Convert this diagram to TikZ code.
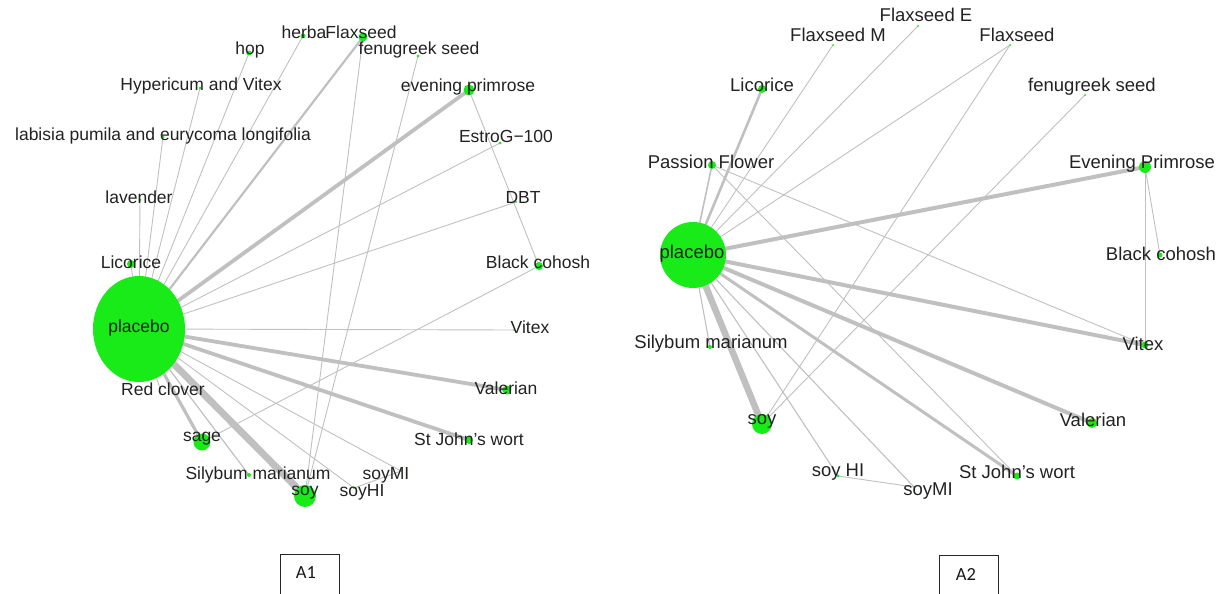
\documentclass[tikz,border=0pt]{standalone}
\usepackage{fontspec}
\setmainfont{Liberation Sans}
\newfontfamily\boxfont{Carlito}
\usetikzlibrary{backgrounds,shapes.geometric}
\definecolor{ngreen}{RGB}{25,235,25}
\definecolor{egray}{RGB}{192,192,192}
\definecolor{txt}{RGB}{34,34,34}
\newcommand\netfontA{\fontsize{17.5}{20}\selectfont}
\newcommand\netfontB{\fontsize{18.5}{21}\selectfont}
\tikzset{
  gdot/.style={circle, fill=ngreen, inner sep=0pt, minimum size=#1},
  lblA/.style={text=txt, inner sep=0pt, font=\netfontA, text height=0.72em, text depth=0pt},
  lblB/.style={text=txt, inner sep=0pt, font=\netfontB, text height=0.72em, text depth=0pt},
  edg/.style={draw=egray, line width=#1},
  edg/.default=0.9,
  tagbox/.style={draw=black!85, line width=0.9pt, minimum width=59pt, minimum height=50pt, anchor=north},
  tagtext/.style={font=\boxfont\fontsize{18.5}{20}\selectfont, text=black!90, inner sep=0pt}
}
\begin{document}
\begin{tikzpicture}[x=1pt,y=-1pt]
\useasboundingbox (0,0) rectangle (1227,594);

% ================= A1 =================
\node[ellipse, fill=ngreen, inner sep=0pt, minimum width=92pt, minimum height=106pt] (p1) at (139,329) {};
\node[gdot=8] (lic1) at (131,264) {};
\node[gdot=3] (lav1) at (140,200) {};
\node[gdot=3] (lab1) at (163,137) {};
\node[gdot=3] (hyp1) at (200,88) {};
\node[gdot=5] (hop1) at (249,53) {};
\node[gdot=5] (herb1) at (303,36) {};
\node[gdot=9] (flax1) at (363,37) {};
\node[gdot=3] (fen1) at (418,56) {};
\node[gdot=11] (ep1) at (469,90) {};
\node[gdot=3] (est1) at (500,143) {};
\node[gdot=2] (dbt1) at (516,202) {};
\node[gdot=8] (bc1) at (539,266) {};
\node[gdot=2] (vit1) at (514,330) {};
\node[gdot=9] (val1) at (507,390) {};
\node[gdot=8] (sjw1) at (469,440) {};
\node[gdot=2] (smi1) at (401,471) {};
\node[gdot=2] (shi1) at (354,488) {};
\node[gdot=22] (soy1) at (305,496) {};
\node[gdot=4] (sil1) at (249,475) {};
\node[gdot=17] (sag1) at (202,442) {};
\node[gdot=2] (rc1) at (160,388) {};

\begin{pgfonlayer}{background}
\draw[edg] (p1.center) -- (lic1.center);
\draw[edg] (p1.center) -- (lav1.center);
\draw[edg] (p1.center) -- (lab1.center);
\draw[edg] (p1.center) -- (hyp1.center);
\draw[edg] (p1.center) -- (hop1.center);
\draw[edg] (p1.center) -- (herb1.center);
\draw[edg=2.2] (p1.center) -- (flax1.center);
\draw[edg=3.8] (p1.center) -- (ep1.center);
\draw[edg] (p1.center) -- (est1.center);
\draw[edg] (p1.center) -- (dbt1.center);
\draw[edg] (p1.center) -- (vit1.center);
\draw[edg=3.8] (p1.center) -- (val1.center);
\draw[edg=3.8] (p1.center) -- (sjw1.center);
\draw[edg] (p1.center) -- (smi1.center);
\draw[edg] (p1.center) -- (shi1.center);
\draw[edg=7] (p1.center) -- (soy1.center);
\draw[edg=1.2] (p1.center) -- (sil1.center);
\draw[edg=3.2] (p1.center) -- (sag1.center);
\draw[edg] (p1.center) -- (rc1.center);
\draw[edg] (ep1.center) -- (bc1.center);
\draw[edg] (bc1.center) -- (sag1.center);
\draw[edg] (soy1.center) -- (flax1.center);
\draw[edg] (soy1.center) -- (fen1.center);
\draw[edg] (shi1.center) -- (smi1.center);
\end{pgfonlayer}

\node[lblA] (p1l) at (139,329) {placebo};
\node[lblA] (lic1l) at (131,265) {Licorice};
\node[lblA] (lav1l) at (139,200) {lavender};
\node[lblA] (lab1l) at (163,137) {labisia pumila and eurycoma longifolia};
\node[lblA] (hyp1l) at (201,87) {Hypericum and Vitex};
\node[lblA] (hop1l) at (250,51) {hop};
\node[lblA] (herb1l) at (304,35) {herba};
\node[lblA] (flax1l) at (361,35) {Flaxseed};
\node[lblA] (fen1l) at (419,51) {fenugreek seed};
\node[lblA] (ep1l) at (468,88) {evening primrose};
\node[lblA] (est1l) at (506,139) {EstroG\textminus100};
\node[lblA] (dbt1l) at (523,200) {DBT};
\node[lblA] (bc1l) at (538,265) {Black cohosh};
\node[lblA] (vit1l) at (530,330) {Vitex};
\node[lblA] (val1l) at (506,391) {Valerian};
\node[lblA] (sjw1l) at (469,442) {St John's wort};
\node[lblA] (smi1l) at (386,476) {soyMI};
\node[lblA] (shi1l) at (362,493) {soyHI};
\node[lblA] (soy1l) at (305,492) {soy};
\node[lblA] (sil1l) at (258,476) {Silybum marianum};
\node[lblA] (sag1l) at (202,438) {sage};
\node[lblA] (rc1l) at (163,392) {Red clover};

% ================= A2 =================
\node[gdot=66] (p2) at (693,255) {};
\node[gdot=8] (lic2) at (762,89) {};
\node[gdot=8] (pf2) at (712,165) {};
\node[gdot=2] (fm2) at (833,45) {};
\node[gdot=2] (fe2) at (918,26) {};
\node[gdot=2] (fl2) at (1010,45) {};
\node[gdot=2] (fen2) at (1085,95) {};
\node[gdot=12] (ep2) at (1145,167) {};
\node[gdot=5] (bc2) at (1160,255) {};
\node[gdot=7] (vit2) at (1145,345) {};
\node[gdot=10] (val2) at (1092,423) {};
\node[gdot=7] (sjw2) at (1017,476) {};
\node[gdot=2] (smi2) at (914,487) {};
\node[gdot=3] (shi2) at (838,476) {};
\node[gdot=20] (soy2) at (762,424) {};
\node[gdot=4] (sil2) at (710,347) {};

\begin{pgfonlayer}{background}
\draw[edg=2.6] (p2.center) -- (lic2.center);
\draw[edg=1.6] (p2.center) -- (pf2.center);
\draw[edg] (p2.center) -- (fm2.center);
\draw[edg] (p2.center) -- (fe2.center);
\draw[edg] (p2.center) -- (fl2.center);
\draw[edg=4] (p2.center) -- (ep2.center);
\draw[edg=4] (p2.center) -- (vit2.center);
\draw[edg=4] (p2.center) -- (val2.center);
\draw[edg=3] (p2.center) -- (sjw2.center);
\draw[edg=1.1] (p2.center) -- (smi2.center);
\draw[edg=1.1] (p2.center) -- (shi2.center);
\draw[edg=6.5] (p2.center) -- (soy2.center);
\draw[edg=1.1] (p2.center) -- (sil2.center);
\draw[edg] (ep2.center) -- (bc2.center);
\draw[edg] (ep2.center) -- (vit2.center);
\draw[edg] (pf2.center) -- (vit2.center);
\draw[edg] (pf2.center) -- (sjw2.center);
\draw[edg] (soy2.center) -- (fl2.center);
\draw[edg] (soy2.center) -- (fen2.center);
\draw[edg] (shi2.center) -- (smi2.center);
\end{pgfonlayer}

\node[lblB] (p2l) at (692,255) {placebo};
\node[lblB] (lic2l) at (762,88) {Licorice};
\node[lblB] (pf2l) at (711,165) {Passion Flower};
\node[lblB] (fm2l) at (838,38) {Flaxseed M};
\node[lblB] (fe2l) at (926,18) {Flaxseed E};
\node[lblB] (fl2l) at (1017,38) {Flaxseed};
\node[lblB] (fen2l) at (1092,88) {fenugreek seed};
\node[lblB] (ep2l) at (1142,165) {Evening Primrose};
\node[lblB] (bc2l) at (1161,257) {Black cohosh};
\node[lblB] (vit2l) at (1143,347) {Vitex};
\node[lblB] (val2l) at (1093,423) {Valerian};
\node[lblB] (sjw2l) at (1017,475) {St John's wort};
\node[lblB] (smi2l) at (928,492) {soyMI};
\node[lblB] (shi2l) at (838,473) {soy HI};
\node[lblB] (soy2l) at (762,421) {soy};
\node[lblB] (sil2l) at (711,345) {Silybum marianum};

% ================= tags =================
\node[tagbox] (a1box) at (309.5,554) {};
\node[tagtext] (a1) at (306,573) {A1};
\node[tagbox] (a2box) at (969,555) {};
\node[tagtext] (a2) at (966,574) {A2};
\end{tikzpicture}
\end{document}
